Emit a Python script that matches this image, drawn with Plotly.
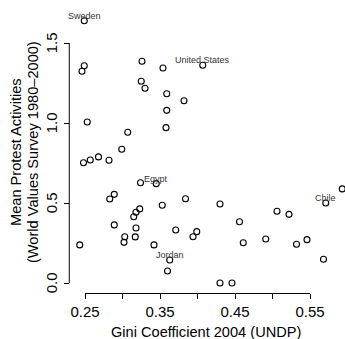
import plotly.graph_objects as go

# Gini coefficient (x) and mean protest activities (y)
gini = [0.249, 0.249, 0.246, 0.253, 0.326, 0.354, 0.325, 0.330, 0.359, 0.382,
        0.359, 0.358, 0.307, 0.407, 0.299, 0.248, 0.257, 0.268, 0.282, 0.324,
        0.345, 0.363, 0.571, 0.283, 0.289, 0.353, 0.384, 0.323, 0.318, 0.315,
        0.289, 0.318, 0.371, 0.399, 0.394, 0.303, 0.302, 0.317, 0.243, 0.342,
        0.360, 0.430, 0.593, 0.456, 0.506, 0.522, 0.461, 0.491, 0.532, 0.546,
        0.568, 0.430, 0.446]
protest = [1.639, 1.358, 1.323, 1.006, 1.386, 1.344, 1.261, 1.217, 1.183, 1.139,
           1.079, 0.971, 0.942, 1.361, 0.836, 0.752, 0.769, 0.788, 0.767, 0.627,
           0.621, 0.144, 0.500, 0.525, 0.554, 0.486, 0.527, 0.463, 0.442, 0.414,
           0.363, 0.344, 0.331, 0.321, 0.289, 0.289, 0.254, 0.288, 0.238, 0.238,
           0.075, 0.494, 0.588, 0.383, 0.448, 0.429, 0.252, 0.275, 0.242, 0.271,
           0.148, 0.000, 0.000]
labels = ["Sweden", "", "", "", "", "", "", "", "", "",
          "", "", "", "United States", "", "", "", "", "", "",
          "Egypt", "Jordan", "Chile", "", "", "", "", "", "", "",
          "", "", "", "", "", "", "", "", "", "",
          "", "", "", "", "", "", "", "", "", "",
          "", "", ""]

x_ticks = [0.25, 0.30, 0.35, 0.40, 0.45, 0.50, 0.55]
x_ticktext = ["0.25", "", "0.35", "", "0.45", "", "0.55"]
y_ticks = [0.0, 0.5, 1.0, 1.5]
y_ticktext = ["0.0", "0.5", "1.0", "1.5"]

x_title = "Gini Coefficient 2004 (UNDP)"
y_title_1 = "Mean Protest Activities"
y_title_2 = "(World Values Survey 1980\u20132000)"

FONT = "Liberation Sans, Arial, Helvetica, sans-serif"

# R-style plot region: data range extended by 4%
xmin, xmax = min(gini), max(gini)
ymin, ymax = min(protest), max(protest)
usr_x0 = xmin - 0.04 * (xmax - xmin)
usr_y0 = ymin - 0.04 * (ymax - ymin)

# plotly plotting area (slightly larger than R's region so axis lines aren't clipped)
W, H = 345, 339
L, R, T, B = 60, 0, 5, 39
x_range = [0.21667, 0.59667]
y_range = [-0.10625, 1.7375]
# normalized positions of the R-style axes inside the plotting area
ypos_axis = (usr_x0 - x_range[0]) / (x_range[1] - x_range[0])
xpos_axis = (usr_y0 - y_range[0]) / (y_range[1] - y_range[0])

fig = go.Figure()
fig.add_trace(go.Scatter(
    x=gini, y=protest, mode="markers",
    marker=dict(symbol="circle-open", size=6, color="black",
                line=dict(color="black", width=1.1)),
    hoverinfo="skip", showlegend=False, cliponaxis=False,
))

# axis lines spanning first..last tick (R style)
fig.add_trace(go.Scatter(
    x=[x_ticks[0], x_ticks[-1]], y=[usr_y0, usr_y0], mode="lines",
    line=dict(color="black", width=1),
    hoverinfo="skip", showlegend=False,
))
fig.add_trace(go.Scatter(
    x=[usr_x0, usr_x0], y=[y_ticks[0], y_ticks[-1]], mode="lines",
    line=dict(color="black", width=1),
    hoverinfo="skip", showlegend=False,
))

for gx, py, lab in zip(gini, protest, labels):
    if lab:
        fig.add_annotation(x=gx, y=py, text=lab, showarrow=False,
                           yshift=5, xanchor="center", yanchor="middle",
                           font=dict(family=FONT, size=9, color="#333333"))

# rotated y tick labels (R style, parallel to axis)
for yv, yt in zip(y_ticks, y_ticktext):
    fig.add_annotation(xref="paper", yref="y", x=ypos_axis, y=yv, xshift=-18,
                       text=yt, showarrow=False, textangle=-90,
                       xanchor="center", yanchor="middle",
                       font=dict(family=FONT, size=15, color="black"))

fig.add_annotation(xref="paper", yref="paper", x=0.5, y=0, yshift=-32,
                   text=x_title, showarrow=False, xanchor="center",
                   yanchor="middle", xshift=3,
                   font=dict(family=FONT, size=14.6, color="black"))
fig.add_annotation(xref="paper", yref="paper", x=0, y=0.5, xshift=-44.5,
                   text=y_title_1, showarrow=False, textangle=-90,
                   xanchor="center", yanchor="middle",
                   font=dict(family=FONT, size=14.6, color="black"))
fig.add_annotation(xref="paper", yref="paper", x=0, y=0.5, xshift=-27.5,
                   text=y_title_2, showarrow=False, textangle=-90,
                   xanchor="center", yanchor="middle",
                   font=dict(family=FONT, size=14.6, color="black"))

fig.update_layout(
    template="none",
    width=W, height=H,
    margin=dict(l=L, r=R, t=T, b=B, pad=0),
    plot_bgcolor="white", paper_bgcolor="white",
    font=dict(family=FONT, size=14, color="black"),
    xaxis=dict(range=x_range, tickvals=x_ticks, ticktext=x_ticktext,
               automargin=False, anchor="free", position=xpos_axis,
               ticks="outside", ticklen=5, tickwidth=1, tickcolor="black",
               showgrid=False, zeroline=False, showline=False,
               tickfont=dict(family=FONT, size=15, color="black")),
    yaxis=dict(range=y_range, tickvals=y_ticks, showticklabels=False,
               automargin=False, anchor="free", position=ypos_axis,
               ticks="outside", ticklen=5, tickwidth=1, tickcolor="black",
               showgrid=False, zeroline=False, showline=False),
)

fig.write_html(
    "out.html",
    config={"displayModeBar": False},
    post_script="document.body.style.margin='0';document.body.style.padding='0';"
                "document.body.style.overflow='hidden';",
)
